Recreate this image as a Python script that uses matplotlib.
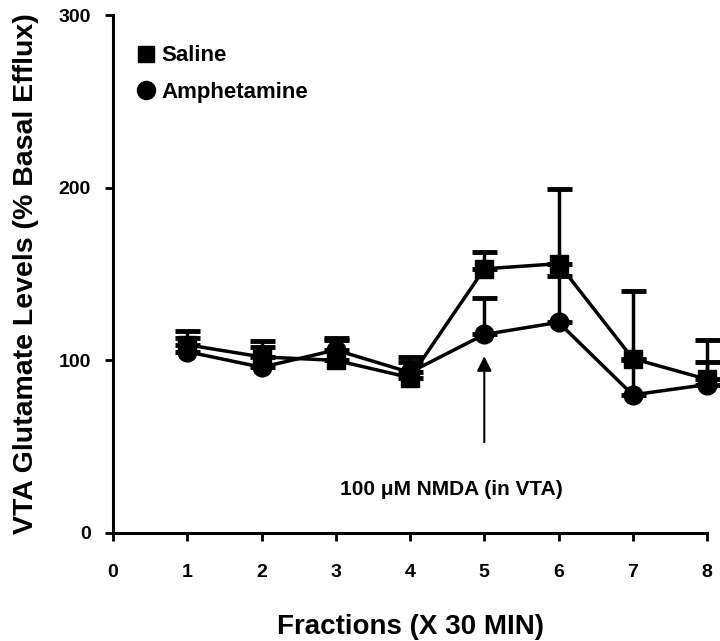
import matplotlib
matplotlib.use('Agg')
import matplotlib.pyplot as plt
from matplotlib.lines import Line2D

plt.rcParams['font.family'] = ['Liberation Sans', 'DejaVu Sans']
plt.rcParams['font.weight'] = 'bold'

fractions = [1, 2, 3, 4, 5, 6, 7, 8]
saline = [109, 102, 100, 90, 153, 156, 101, 89]
saline_sem = [8, 9, 13, 12, 10, 43, 39, 23]
amph = [105, 96, 106, 93, 115, 122, 80, 86]
amph_sem = [8, 12, 6, 6, 21, 27, 20, 13]

fig = plt.figure(figsize=(7.2, 6.41), dpi=100)
ax = fig.add_axes([0.157, 0.1685, 0.825, 0.808])

for y, err, mk, ms, z in [(amph, amph_sem, 'o', 13.5, 3), (saline, saline_sem, 's', 13, 4)]:
    eb = ax.errorbar(fractions, y, yerr=[[0] * 8, err], color='black', lw=2.5,
                     marker=mk, markersize=ms, elinewidth=2.5, capsize=9, capthick=3.5, zorder=z)
    for art in [eb.lines[0]] + list(eb.lines[1]) + list(eb.lines[2]):
        art.set_clip_on(False)

ax.annotate('', xy=(5, 104), xytext=(5, 51),
            arrowprops=dict(arrowstyle='-|>', lw=1.5, color='black', mutation_scale=22))
ax.text(4.56, 25, '100 \u03bcM NMDA (in VTA)', ha='center', va='center',
        fontsize=15, fontweight='bold')

handles = [Line2D([], [], ls='none', marker='s', color='black', markersize=12),
           Line2D([], [], ls='none', marker='o', color='black', markersize=13)]
ax.legend(handles, ['Saline', 'Amphetamine'], frameon=False, loc='upper left',
          bbox_to_anchor=(0.01, 0.98), handlelength=0.6, handletextpad=0.4,
          labelspacing=0.7, prop={'size': 16, 'weight': 'bold'})

ax.set_xlim(0, 8)
ax.set_ylim(0, 300)
ax.set_xticks(range(0, 9))
ax.set_yticks([0, 100, 200, 300])
ax.spines['top'].set_visible(False)
ax.spines['right'].set_visible(False)
for s in ['left', 'bottom']:
    ax.spines[s].set_linewidth(2.2)
ax.tick_params(axis='x', length=6, width=2, pad=16, labelsize=14)
ax.tick_params(axis='y', length=6, width=2, pad=10, labelsize=14)

ax.set_xlabel('Fractions (X 30 MIN)', fontsize=20, fontweight='bold', labelpad=24)
ax.set_ylabel('VTA Glutamate Levels (% Basal Efflux)', fontsize=20.5, fontweight='bold', labelpad=14)

fig.savefig('out.png', dpi=100)
